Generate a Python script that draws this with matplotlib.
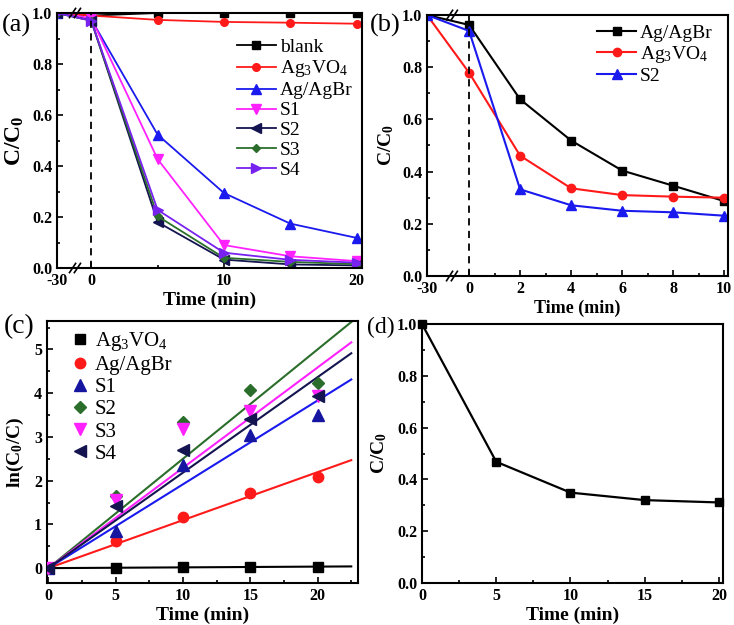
import numpy as np
import matplotlib
matplotlib.use("Agg")
import matplotlib.pyplot as plt
from matplotlib.ticker import MultipleLocator, FixedLocator

plt.rcParams['font.family'] = ['Liberation Serif', 'DejaVu Serif']
plt.rcParams['mathtext.fontset'] = 'custom'
plt.rcParams['mathtext.rm'] = 'Liberation Serif'
plt.rcParams['mathtext.it'] = 'Liberation Serif:italic'
plt.rcParams['mathtext.bf'] = 'Liberation Serif:bold'
plt.rcParams['mathtext.default'] = 'regular'
plt.rcParams['axes.unicode_minus'] = False

# ---------------- data ----------------
# (a)
t_a = [-30, 0, 5, 10, 15, 20]
a_blank = [1.0, 0.99, 1.0, 1.0, 1.0, 1.0]
a_ag3vo4 = [1.0, 0.99, 0.973, 0.965, 0.962, 0.958]
a_agagbr = [1.0, 0.975, 0.523, 0.294, 0.174, 0.118]
a_s1 = [1.0, 0.98, 0.427, 0.090, 0.046, 0.027]
a_s2 = [1.0, 0.97, 0.180, 0.033, 0.014, 0.010]
a_s3 = [1.0, 0.97, 0.203, 0.040, 0.024, 0.015]
a_s4 = [1.0, 0.97, 0.228, 0.060, 0.032, 0.021]

# (b)
t_b = [-30, 0, 2, 4, 6, 8, 10]
b_agagbr = [1.0, 0.962, 0.677, 0.519, 0.404, 0.346, 0.287]
b_ag3vo4 = [1.0, 0.779, 0.461, 0.336, 0.310, 0.304, 0.300]
b_s2 = [1.0, 0.939, 0.332, 0.271, 0.250, 0.244, 0.231]

# (c)
t_c = [0, 5, 10, 15, 20]
c_ag3vo4 = [0.0, 0.01, 0.02, 0.03, 0.03]
c_agagbr = [0.0, 0.62, 1.18, 1.72, 2.08]
c_s1 = [0.0, 0.86, 2.35, 3.05, 3.51]
c_s2 = [0.0, 1.66, 3.34, 4.07, 4.24]
c_s3 = [0.0, 1.56, 3.18, 3.59, 3.93]
c_s4 = [0.0, 1.41, 2.71, 3.40, 3.93]
c_fit_t = [0, 22.5]

# (d)
t_d = [0, 5, 10, 15, 20]
d_vals = [1.0, 0.468, 0.349, 0.320, 0.311]

# ---------------- style ----------------
RED = '#ff1a1a'
BLUE = '#1a1aee'
MAG = '#ff22ff'
NAVY = '#141450'
GREEN = '#2b6e2b'
PURP = '#7722ee'

fig = plt.figure(figsize=(7.34, 6.25), dpi=100)
W, H = 734, 625


def add_ax(l, r, t, b):
    return fig.add_axes([l / W, 1 - b / H, (r - l) / W, (b - t) / H])


def style(ax, labsize=11.5):
    for s in ax.spines.values():
        s.set_linewidth(1.5)
    ax.tick_params(which='both', direction='in', top=False, right=False,
                   labelsize=labsize, width=1.2)
    ax.tick_params(which='major', length=4)
    ax.tick_params(which='minor', length=2.5)
    for lab in ax.get_xticklabels() + ax.get_yticklabels():
        lab.set_fontweight('bold')


def brk_scale(a):
    def fwd(x):
        x = np.asarray(x, dtype=float)
        return np.where(x < 0, x * a, x)

    def inv(x):
        x = np.asarray(x, dtype=float)
        return np.where(x < 0, x / a, x)
    return fwd, inv


def break_marks(ax, xf):
    for yb in (0, 1):
        for dx in (-0.008, 0.008):
            ax.plot([xf + dx - 0.01, xf + dx + 0.01], [yb - 0.018, yb + 0.018],
                    transform=ax.transAxes, color='k', lw=1.2, clip_on=False)


leg_font = {'family': 'Liberation Serif', 'size': 14, 'weight': 'normal'}

# ---------------- (a) ----------------
ax = add_ax(57, 362, 13, 268)
ax.set_xscale('function', functions=brk_scale(2.58 / 30))
ms = 5.5
lw = 1.3
ax.plot(t_a, a_blank, '-s', color='k', ms=ms, lw=lw, label='blank')
ax.plot(t_a, a_ag3vo4, '-o', color=RED, ms=ms, lw=lw, label='Ag$_3$VO$_4$')
ax.plot(t_a, a_agagbr, '-^', color=BLUE, ms=ms + 1, lw=lw, label='Ag/AgBr')
ax.plot(t_a, a_s1, '-v', color=MAG, ms=ms + 1, lw=lw, label='S1')
ax.plot(t_a, a_s2, '-<', color=NAVY, ms=ms + 1, lw=lw, label='S2')
ax.plot(t_a, a_s3, '-D', color=GREEN, ms=ms - 1, lw=lw, label='S3')
ax.plot(t_a, a_s4, '->', color=PURP, ms=ms + 1, lw=lw, label='S4')
ax.axvline(0, color='k', ls='--', lw=1.3, dashes=(4, 3))
ax.set_xlim(-30, 20.4)
ax.set_ylim(0, 1.0)
ax.xaxis.set_major_locator(FixedLocator([-30, 0, 10, 20]))
ax.xaxis.set_minor_locator(FixedLocator([5, 15]))
ax.yaxis.set_major_locator(MultipleLocator(0.2))
ax.yaxis.set_minor_locator(MultipleLocator(0.1))
ax.yaxis.set_major_formatter(matplotlib.ticker.FormatStrFormatter('%.1f'))
style(ax)
break_marks(ax, 0.059)
ax.set_xlabel('Time (min)', fontsize=14, fontweight='bold', labelpad=2)
ax.set_ylabel('C/C$_0$', fontsize=17, fontweight='bold', labelpad=4)
ax.legend(loc='upper left', bbox_to_anchor=(0.59, 0.90), frameon=False,
          prop=leg_font, handlelength=2.0, handletextpad=0.2,
          labelspacing=0.12, borderpad=0, borderaxespad=0)
fig.text(2 / W, 1 - 25 / H, '(a)', fontsize=19, va='center', ha='left')

# ---------------- (b) ----------------
ax = add_ax(427, 728, 15, 276)
ax.set_xscale('function', functions=brk_scale(1.65 / 30))
ax.plot(t_b, b_agagbr, '-s', color='k', ms=ms, lw=1.5, label='Ag/AgBr')
ax.plot(t_b, b_ag3vo4, '-o', color=RED, ms=ms + 0.5, lw=1.5, label='Ag$_3$VO$_4$')
ax.plot(t_b, b_s2, '-^', color=BLUE, ms=ms + 1, lw=1.5, label='S2')
ax.axvline(0, color='k', ls='--', lw=1.3, dashes=(4, 3))
ax.set_xlim(-30, 10.15)
ax.set_ylim(0, 1.0)
ax.xaxis.set_major_locator(FixedLocator([-30, 0, 2, 4, 6, 8, 10]))
ax.xaxis.set_minor_locator(FixedLocator([1, 3, 5, 7, 9]))
ax.yaxis.set_major_locator(MultipleLocator(0.2))
ax.yaxis.set_minor_locator(MultipleLocator(0.1))
ax.yaxis.set_major_formatter(matplotlib.ticker.FormatStrFormatter('%.1f'))
style(ax)
break_marks(ax, 0.083)
ax.set_xlabel('Time (min)', fontsize=13, fontweight='bold', labelpad=2)
ax.set_ylabel('C/C$_0$', fontsize=14, fontweight='bold', labelpad=4)
ax.legend(loc='upper left', bbox_to_anchor=(0.565, 0.965), frameon=False,
          prop=leg_font, handlelength=2.0, handletextpad=0.2,
          labelspacing=0.12, borderpad=0, borderaxespad=0)
fig.text(370 / W, 1 - 25 / H, '(b)', fontsize=19, va='center', ha='left')

# ---------------- (c) ----------------
ax = add_ax(47, 358, 321, 583)
cms = 7.5
series_c = [
    (c_ag3vo4, 's', 'k', 'Ag$_3$VO$_4$', cms - 0.5),
    (c_agagbr, 'o', RED, 'Ag/AgBr', cms),
    (c_s1, '^', '#1515a0', 'S1', cms + 0.5),
    (c_s2, 'D', GREEN, 'S2', cms - 1),
    (c_s3, 'v', MAG, 'S3', cms + 0.5),
    (c_s4, '<', NAVY, 'S4', cms + 0.5),
]
line_cols = ['k', RED, BLUE, GREEN, MAG, NAVY]
tc = np.asarray(t_c, dtype=float)
for (vals, mk, col, lab, m), lc in zip(series_c, line_cols):
    v = np.asarray(vals, dtype=float)
    k = np.sum(tc * v) / np.sum(tc * tc)
    ft = np.asarray(c_fit_t, dtype=float)
    ax.plot(ft, k * ft, '-', color=lc, lw=1.5, zorder=2)
    ax.plot(t_c, vals, mk, color=col, ms=m, ls='none', label=lab, zorder=3)
ax.set_xlim(-0.1, 23.0)
ax.set_ylim(-0.34, 5.65)
ax.xaxis.set_major_locator(MultipleLocator(5))
ax.xaxis.set_minor_locator(MultipleLocator(2.5))
ax.yaxis.set_major_locator(MultipleLocator(1))
ax.yaxis.set_minor_locator(MultipleLocator(0.5))
style(ax)
ax.set_xlabel('Time (min)', fontsize=14, fontweight='bold', labelpad=2)
ax.set_ylabel('ln(C$_0$/C)', fontsize=14, fontweight='bold', labelpad=6)
ax.legend(loc='upper left', bbox_to_anchor=(0.08, 0.965), frameon=False,
          prop={'family': 'Liberation Serif', 'size': 15}, handlelength=0.8,
          handletextpad=0.3, labelspacing=0.12, borderpad=0, borderaxespad=0)
fig.text(4 / W, 1 - 327 / H, '(c)', fontsize=20, va='center', ha='left')

# ---------------- (d) ----------------
ax = add_ax(422, 723, 324, 583)
ax.plot(t_d, d_vals, '-s', color='k', ms=6, lw=1.6, clip_on=False)
ax.set_xlim(0, 20.27)
ax.set_ylim(0, 1.0)
ax.xaxis.set_major_locator(MultipleLocator(5))
ax.xaxis.set_minor_locator(MultipleLocator(2.5))
ax.yaxis.set_major_locator(MultipleLocator(0.2))
ax.yaxis.set_minor_locator(MultipleLocator(0.1))
ax.yaxis.set_major_formatter(matplotlib.ticker.FormatStrFormatter('%.1f'))
style(ax)
ax.set_xlabel('Time (min)', fontsize=14, fontweight='bold', labelpad=2)
ax.set_ylabel('C/C$_0$', fontsize=14, fontweight='bold', labelpad=6)
fig.text(367 / W, 1 - 327 / H, '(d)', fontsize=17, va='center', ha='left')

fig.savefig('out.png', dpi=100)
